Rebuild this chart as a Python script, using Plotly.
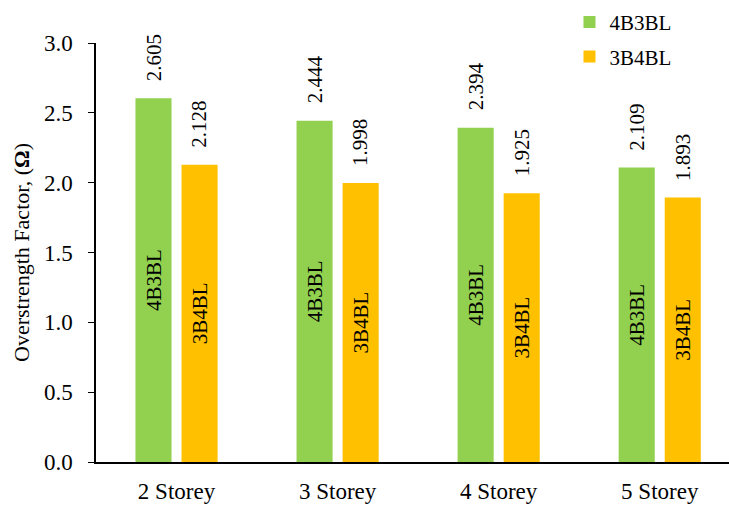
import plotly.graph_objects as go

categories = ["2 Storey", "3 Storey", "4 Storey", "5 Storey"]
series_names = ["4B3BL", "3B4BL"]
values_4b3bl = [2.605, 2.444, 2.394, 2.109]
values_3b4bl = [2.128, 1.998, 1.925, 1.893]
colors = ["#92D050", "#FFC000"]

FONT = "Liberation Serif, Times New Roman, serif"
bar_w = 0.224
offsets = [-0.143, 0.143]

fig = go.Figure()
for name, vals, col, off in zip(series_names, [values_4b3bl, values_3b4bl], colors, offsets):
    fig.add_trace(go.Bar(
        name=name, x=categories, y=vals, marker=dict(color=col, line=dict(width=0)),
        width=bar_w, offset=off - bar_w / 2, legendgroup=name,
        text=[name] * len(vals), textposition="inside", insidetextanchor="middle",
        textangle=-90, constraintext="none",
        insidetextfont=dict(family=FONT, size=21, color="black"),
        hoverinfo="y",
    ))

annotations = []
for name, vals, off in zip(series_names, [values_4b3bl, values_3b4bl], offsets):
    for i, v in enumerate(vals):
        annotations.append(dict(
            x=i + off, y=v, xref="x", yref="y", text=f"{v:.3f}", textangle=-90,
            showarrow=False, yanchor="bottom", xanchor="center", yshift=15,
            font=dict(family=FONT, size=21, color="black")))

fig.update_layout(
    width=729, height=505,
    margin=dict(l=96, r=0, t=43, b=43),
    plot_bgcolor="white", paper_bgcolor="white",
    font=dict(family=FONT, size=22, color="black"),
    showlegend=True,
    legend=dict(x=0.748, y=1.098, xanchor="left", yanchor="top",
                font=dict(family=FONT, size=21), tracegroupgap=4,
                itemwidth=30, bgcolor="rgba(0,0,0,0)"),
    annotations=annotations,
)
fig.update_xaxes(type="category", range=[-0.5, 3.43], showline=True, linecolor="black",
                 linewidth=1.5, ticks="", showgrid=False, tickfont=dict(size=23),
                 ticklabelstandoff=8)
fig.update_yaxes(range=[0, 3.0], dtick=0.5, tickformat=".1f", showline=True,
                 linecolor="black", linewidth=1.5, ticks="outside", ticklen=6,
                 tickcolor="black", showgrid=False, zeroline=False,
                 tickfont=dict(size=23), ticklabelstandoff=11,
                 title=dict(text="Overstrength Factor, (<b>Ω</b>)", font=dict(size=22), standoff=8))

fig.write_html("out.html")
